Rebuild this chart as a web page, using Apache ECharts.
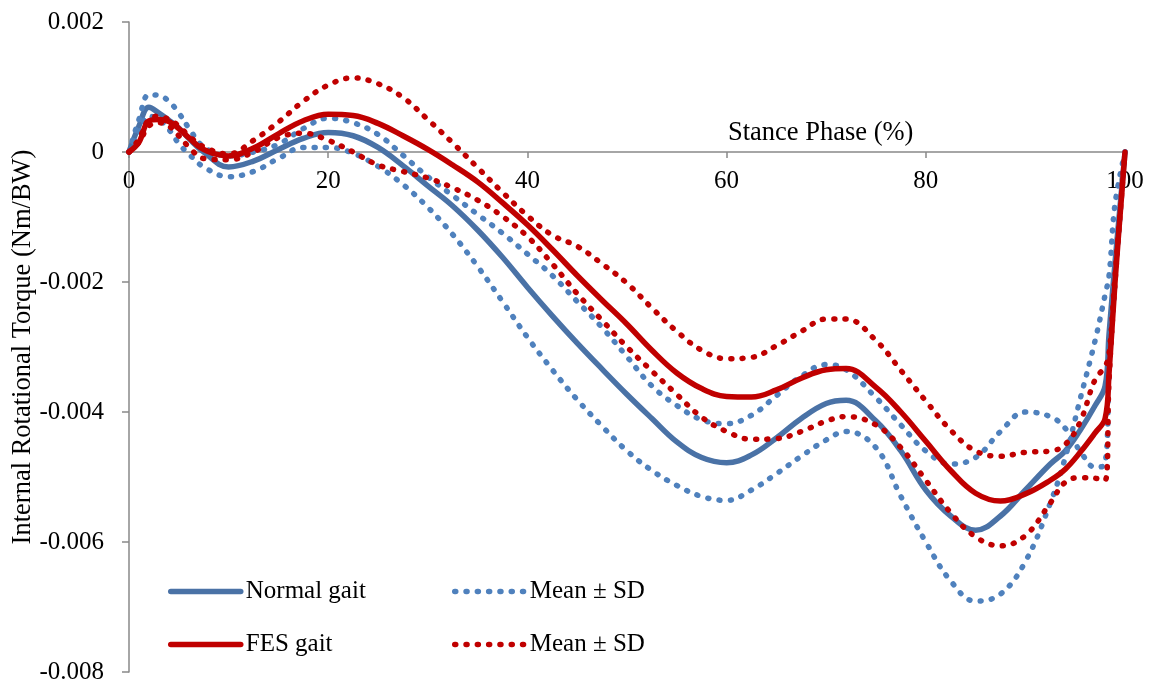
<!DOCTYPE html>
<html><head><meta charset="utf-8">
<script src="https://cdn.jsdelivr.net/npm/echarts@6/dist/echarts.min.js"></script>
<style>html,body{margin:0;padding:0;background:#fff}#c{width:1159px;height:682px}</style>
</head><body><div id="c"></div>
<script>
// Stance phase (%) sample positions
const stance = [0,1,2,3,4,5,6,7.5,10,12.5,15,17.5,20,22.5,25,27.5,30,32.5,35,37.5,40,42.5,45,47.5,50,52.5,55,57.5,60,62.5,65,67.5,70,72,75,77.5,80,82.5,85,87.5,90,92.5,94,95.5,97,98,98.4,99,100];

// Normal gait mean and mean ± SD (Nm/BW)
const normalMean = [0,0.0004,0.00069,0.0006,0.00049,0.00037,0.00021,0.0,-0.00023,-0.00014,0.00004,0.00021,0.0003,0.00025,0.00007,-0.00021,-0.00052,-0.00083,-0.0012,-0.00162,-0.00208,-0.00252,-0.00294,-0.00334,-0.00373,-0.0041,-0.00446,-0.0047,-0.00478,-0.00466,-0.0044,-0.0041,-0.00387,-0.00382,-0.00414,-0.0046,-0.0052,-0.0056,-0.00582,-0.0056,-0.0052,-0.0048,-0.0046,-0.00428,-0.0039,-0.0036,-0.0028,-0.0017,0];
const normalUpper = [0,0.0005,0.00088,0.00087,0.00078,0.0006,0.00037,0.00008,-0.00006,0.0,0.00012,0.00036,0.00052,0.00045,0.00027,-0.00005,-0.00038,-0.00067,-0.00096,-0.00125,-0.00157,-0.0019,-0.0023,-0.0027,-0.00315,-0.0036,-0.0039,-0.00412,-0.00418,-0.00405,-0.00375,-0.00345,-0.00327,-0.00335,-0.00378,-0.0042,-0.0046,-0.0048,-0.0047,-0.0043,-0.004,-0.00407,-0.00425,-0.0046,-0.00485,-0.0048,-0.0034,-0.002,0];
const normalLower = [0,0.0003,0.00055,0.0005,0.00035,0.00013,-0.00003,-0.00023,-0.00038,-0.0003,-0.0001,0.00007,0.00007,-0.00002,-0.00022,-0.0005,-0.00085,-0.00127,-0.00176,-0.0023,-0.00285,-0.00335,-0.00381,-0.00422,-0.0046,-0.0049,-0.00513,-0.0053,-0.00536,-0.0052,-0.00495,-0.00468,-0.00443,-0.0043,-0.00455,-0.0053,-0.006,-0.0066,-0.00691,-0.0068,-0.0063,-0.0054,-0.0047,-0.0038,-0.0029,-0.0022,-0.0019,-0.0008,0];

// FES gait mean and mean ± SD (Nm/BW)
const fesMean = [0,0.00015,0.00048,0.0005,0.00047,0.00036,0.00022,0.00004,-0.00006,0.00006,0.00028,0.00048,0.00058,0.00056,0.00044,0.00025,0.00004,-0.0002,-0.00046,-0.00078,-0.00112,-0.0015,-0.0019,-0.00228,-0.00265,-0.00305,-0.0034,-0.00364,-0.00376,-0.00377,-0.00366,-0.00348,-0.00335,-0.00333,-0.00362,-0.004,-0.00445,-0.0049,-0.00525,-0.00537,-0.00526,-0.00505,-0.00488,-0.00462,-0.00432,-0.0041,-0.0034,-0.002,0];
const fesUpper = [0,0.0002,0.0005,0.00055,0.0005,0.0004,0.00025,0.00008,-0.00003,0.00018,0.00046,0.00078,0.00103,0.00114,0.00105,0.00084,0.0005,0.00014,-0.00024,-0.00062,-0.00098,-0.00128,-0.00145,-0.00172,-0.00202,-0.0024,-0.00276,-0.00305,-0.00318,-0.00316,-0.00298,-0.00276,-0.00257,-0.00257,-0.0029,-0.00336,-0.00383,-0.00428,-0.0046,-0.00468,-0.00462,-0.0046,-0.0045,-0.00415,-0.0035,-0.0033,-0.0031,-0.0019,0];
const fesLower = [0,0.00015,0.0004,0.00045,0.0004,0.00025,0.00008,-0.0001,-0.00012,0.0,0.00022,0.00029,0.00018,0.0,-0.0002,-0.0003,-0.0004,-0.00055,-0.00074,-0.00099,-0.0013,-0.00172,-0.00218,-0.00259,-0.003,-0.00337,-0.00373,-0.00408,-0.0043,-0.00442,-0.00441,-0.0043,-0.00414,-0.00407,-0.0042,-0.00455,-0.00505,-0.00555,-0.00592,-0.00606,-0.0059,-0.0054,-0.00508,-0.00501,-0.00502,-0.00505,-0.0035,-0.002,0];

// Axis ticks
const xTicks = [0,20,40,60,80,100];
const yTicks = [-0.008,-0.006,-0.004,-0.002,0,0.002];

const FONT = "'Liberation Serif','Times New Roman',serif";
const BLUE = '#4a72a6', BLUE_DOT = '#4f81bd', RED = '#c00000';
const GRID_TOP = 22, GRID_BOTTOM = 10, CHART_H = 682;
const SOLID_W = 5.5, DOT_W = 5.5, DOT_DASH = [1, 10.3];
// pixel distance from top of plot to the zero line (derived from the axis scale)
const zeroOffset = (CHART_H - GRID_TOP - GRID_BOTTOM) * (yTicks[yTicks.length-1] - 0) / (yTicks[yTicks.length-1] - yTicks[0]);

function pts(arr){ return stance.map((x,i)=>[x, arr[i]]); }
function line(name, arr, color, dotted){
  return {
    name, type:'line', data: pts(arr), symbol:'none', smooth:0.4,
    lineStyle: dotted ? {color, width:DOT_W, type:DOT_DASH, cap:'round'} : {color, width:SOLID_W, cap:'round', join:'round'},
    itemStyle:{color}
  };
}

const chart = echarts.init(document.getElementById('c'));
chart.setOption({
  animation:false,
  backgroundColor:'#fff',
  title:{text:'Stance Phase (%)', left:728, top:120, padding:0,
    textStyle:{fontFamily:FONT, fontSize:26.5, fontWeight:'normal', color:'#000'}},
  grid:{left:129, right:34, top:GRID_TOP, bottom:GRID_BOTTOM, containLabel:false, outerBoundsMode:'none'},
  xAxis:{type:'value', position:'top', offset:-zeroOffset,
    min:xTicks[0], max:xTicks[xTicks.length-1], interval:xTicks[1]-xTicks[0],
    axisLine:{onZero:false, lineStyle:{color:'#898989', width:1.5}},
    axisTick:{show:true, inside:true, length:6, lineStyle:{color:'#898989', width:1.5}},
    axisLabel:{inside:true, margin:17, fontFamily:FONT, fontSize:25, color:'#000'},
    splitLine:{show:false}},
  yAxis:{type:'value', min:yTicks[0], max:yTicks[yTicks.length-1], interval:yTicks[1]-yTicks[0],
    name:'Internal Rotational Torque (Nm/BW)', nameLocation:'middle', nameGap:92, nameMoveOverlap:false,
    nameTextStyle:{fontFamily:FONT, fontSize:26.5, color:'#000'},
    axisLine:{show:true, onZero:false, lineStyle:{color:'#898989', width:1.5}},
    axisTick:{show:true, length:7, lineStyle:{color:'#898989', width:1.5}},
    axisLabel:{margin:25, fontFamily:FONT, fontSize:25, color:'#000',
      formatter:v=>Math.abs(v)<1e-12?'0':v.toFixed(3)},
    splitLine:{show:false}},
  legend:[
    {left:168, top:579, padding:0, orient:'vertical', itemWidth:70, itemHeight:14, itemGap:28,
     data:['Normal gait','FES gait'], itemStyle:{opacity:0},
     lineStyle:{width:SOLID_W, cap:'round', type:'solid'},
     textStyle:{fontFamily:FONT, fontSize:25, color:'#000'}},
    {left:452, top:579, padding:0, orient:'vertical', itemWidth:70, itemHeight:14, itemGap:28,
     data:['Normal Mean ± SD','FES Mean ± SD'], formatter:()=>'Mean ± SD', itemStyle:{opacity:0},
     lineStyle:{width:DOT_W, cap:'round', type:DOT_DASH},
     textStyle:{fontFamily:FONT, fontSize:25, color:'#000'}}
  ],
  series:[
    line('Normal gait', normalMean, BLUE, false),
    line('Normal Mean ± SD', normalUpper, BLUE_DOT, true),
    line('Normal Mean ± SD', normalLower, BLUE_DOT, true),
    line('FES gait', fesMean, RED, false),
    line('FES Mean ± SD', fesUpper, RED, true),
    line('FES Mean ± SD', fesLower, RED, true)
  ]
});
</script></body></html>
